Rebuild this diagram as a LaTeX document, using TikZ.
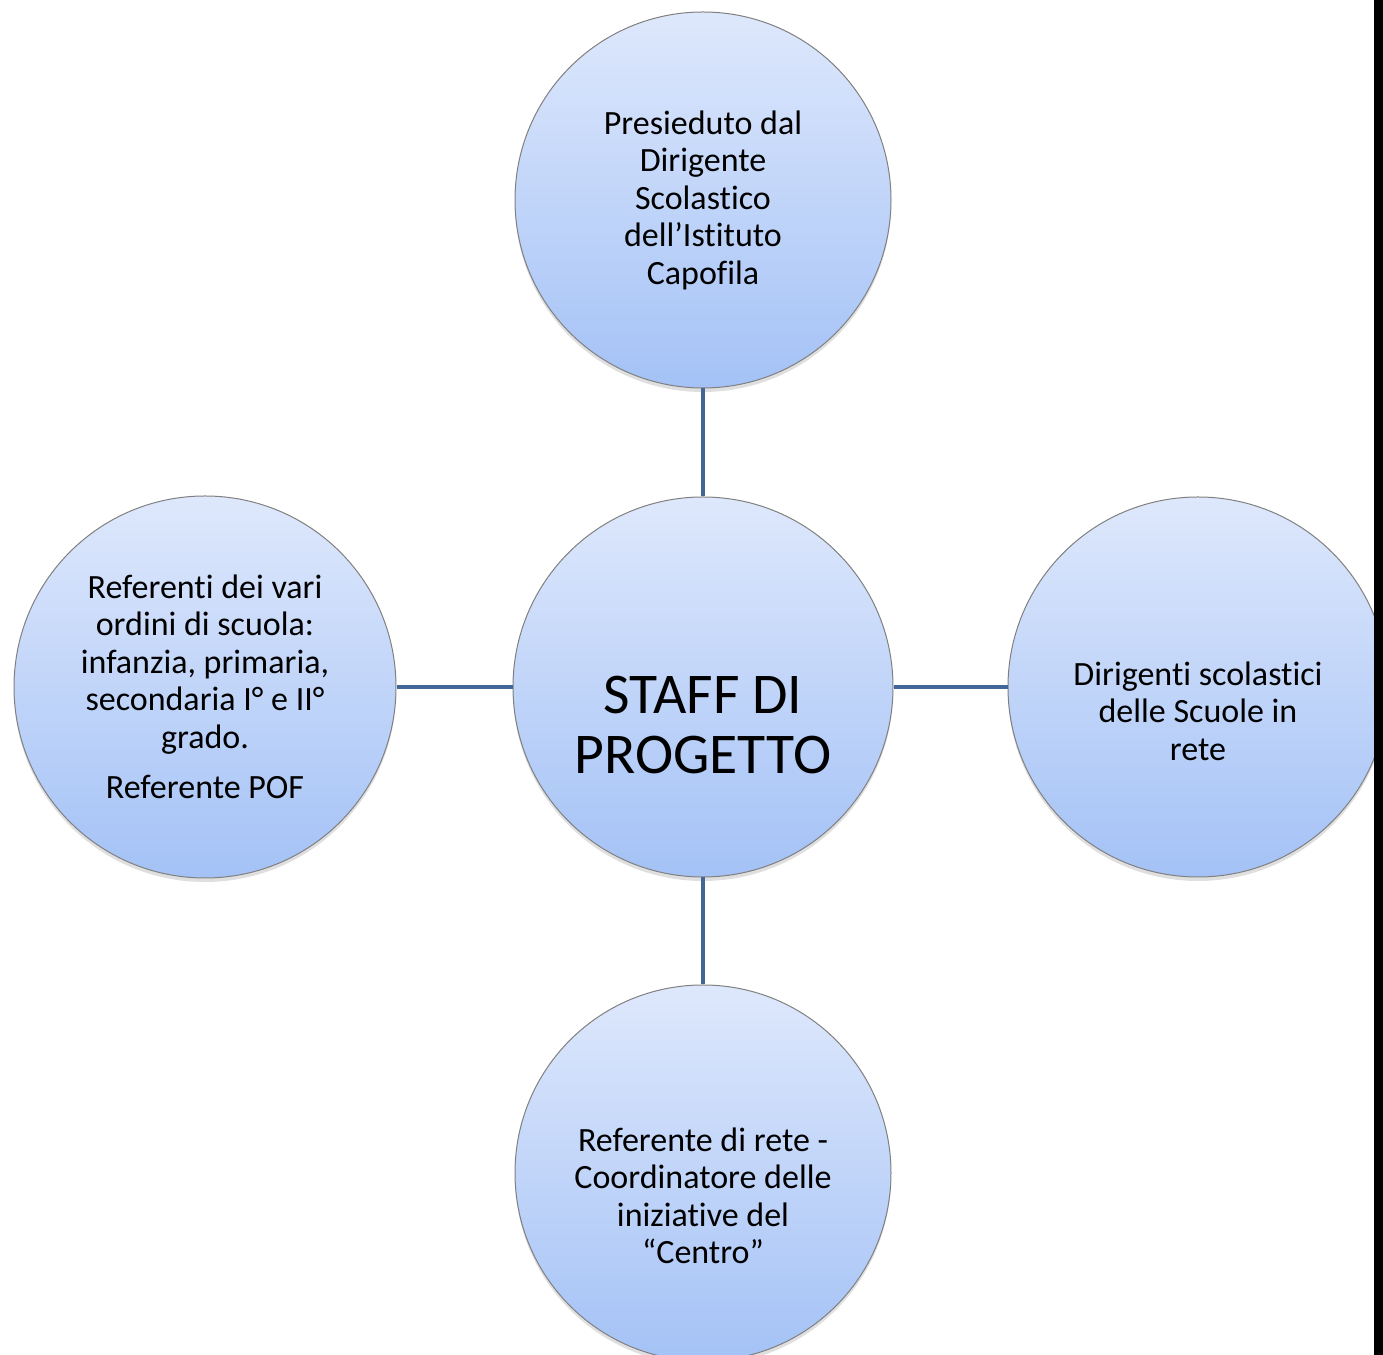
\documentclass[tikz,border=0pt]{standalone}
\usepackage{fontspec}
\setmainfont{Carlito}[Ligatures=NoCommon]
\usetikzlibrary{positioning,shadows}

\definecolor{bubbletop}{RGB}{222,232,252}
\definecolor{bubblebot}{RGB}{164,194,246}
\definecolor{linkblue}{RGB}{66,102,150}

\begin{document}
\begin{tikzpicture}[x=0.5pt, y=0.5pt,
    bubble/.style={circle, draw=gray, line width=0.5pt, top color=bubbletop, bottom color=bubblebot,
                   minimum size=#1, inner sep=0pt, drop shadow={opacity=0.25, shadow xshift=0pt, shadow yshift=-2pt}},
    bubble/.default=190pt,
    txt/.style={align=center, font=\fontsize{17}{18.75}\selectfont},
    link/.style={draw=linkblue, line width=2pt}
]
\clip (0,0) rectangle (1383,1355);
\useasboundingbox (0,0) rectangle (1383,1355);

% circles
\node[bubble=190pt] (core) at (703,668) {};
\node[bubble=188pt] (top) at (703,1155) {};
\node[bubble=188pt] (bot) at (703,182) {};
\node[bubble=191pt] (left) at (205,668) {};
\node[bubble=190pt] (right) at (1198,668) {};

% connectors
\draw[link] (top) -- (core);
\draw[link] (core) -- (bot);
\draw[link] (left) -- (core);
\draw[link] (core) -- (right);

% texts
\node[align=center, font=\fontsize{28.8}{30}\selectfont] (coreT) at (703,630) {STAFF DI\\PROGETTO};
\node[txt] (topT) at (703,1155) {Presieduto dal\\Dirigente\\Scolastico\\dell’Istituto\\Capofila};
\node[txt] (leftT) at (205,668) {Referenti dei vari\\ordini di scuola:\\infanzia, primaria,\\secondaria I° e II°\\grado.\\[6.5pt]Referente POF};
\node[txt] (rightT) at (1198,644) {Dirigenti scolastici\\delle Scuole in\\rete};
\node[txt] (botT) at (703,159) {Referente di rete -\\Coordinatore delle\\iniziative del\\“Centro”};

% right edge strip
\fill[black] (1374,0) rectangle (1383,1355);
\end{tikzpicture}
\end{document}
